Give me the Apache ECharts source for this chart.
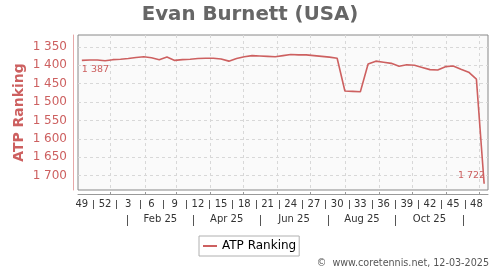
<!DOCTYPE html>
<html>
<head>
<meta charset="utf-8">
<script src="https://cdn.jsdelivr.net/npm/echarts@6/dist/echarts.min.js"></script>
<style>html,body{margin:0;padding:0;background:#fff}#c{width:500px;height:270px}</style>
</head>
<body>
<div id="c"></div>
<script>
// ISO week numbers (week 49 of 2024 .. week 49 of 2025)
const weeks = [49,50,51,52,1,2,3,4,5,6,7,8,9,10,11,12,13,14,15,16,17,18,19,20,21,22,23,24,25,26,27,28,29,30,31,32,33,34,35,36,37,38,39,40,41,42,43,44,45,46,47,48,49];
const ranking = [1387,1386,1386,1388,1385,1384,1382,1379,1377,1380,1385,1378,1387,1385,1384,1382,1381,1381,1383,1389,1382,1377,1374,1375,1376,1377,1374,1371,1372,1372,1374,1376,1378,1381,1470,1471,1472,1397,1389,1392,1395,1403,1399,1400,1406,1412,1413,1404,1402,1411,1419,1438,1722];
const yTicks = [1350,1400,1450,1500,1550,1600,1650,1700];
const firstDate = '2024-12-06';
const monthStarts = ['2025-01-01','2025-02-01','2025-03-01','2025-04-01','2025-05-01','2025-06-01','2025-07-01','2025-08-01','2025-09-01','2025-10-01','2025-11-01','2025-12-01'];
const monthLabels = ['Feb 25','Apr 25','Jun 25','Aug 25','Oct 25'];
const seriesName = 'ATP Ranking';
const titleText = 'Evan Burnett (USA)';
const creditText = '\u00a9  www.coretennis.net, 12-03-2025';

const FONT = 'DejaVu Sans';
const PINK = '#cd6060';
const dayOf = d => (Date.parse(d) - Date.parse(firstDate)) / 86400000;
const startDays = monthStarts.map(dayOf);
const lastDay = 7 * (weeks.length - 1);
// month label at the middle of Feb/Apr/Jun/Aug/Oct; separators at middle of Jan/Mar/May/Jul/Sep/Nov
const labelDays = [1,3,5,7,9].map(m => (startDays[m] + startDays[m+1]) / 2);
const sepDays = [0,2,4,6,8,10].map(m => (startDays[m] + startDays[m+1]) / 2);
const weekSeps = [];
for (let k = 1.5; k < weeks.length - 1; k += 3) weekSeps.push(k);
const fmt = v => { const s = String(v); return s.length > 3 ? s.slice(0, s.length - 3) + ' ' + s.slice(-3) : s; };

const chart = echarts.init(document.getElementById('c'), null, {renderer: 'canvas'});
const hidden = {axisLine:{show:false,onZero:false}, splitLine:{show:false}};
chart.setOption({
  animation: false,
  backgroundColor: '#fff',
  title: {
    text: titleText, left: 'center', top: 0,
    textStyle: {fontFamily: FONT, fontSize: 19.8, fontWeight: 'bold', color: '#666'}
  },
  legend: {
    data: [seriesName], left: 199, top: 236,
    padding: [4, 3, 4, 4], itemWidth: 14, itemHeight: 2, icon: 'rect',
    borderColor: '#b0b0b0', borderWidth: 1, borderRadius: 0,
    textStyle: {fontFamily: FONT, fontSize: 12, color: '#000'}
  },
  graphic: [{
    type: 'text', right: 11, bottom: 2,
    style: {text: creditText, font: '9.6px "DejaVu Sans"', fill: '#555'}
  }],
  grid: {
    left: 78, right: 12, top: 35, bottom: 80, show: true,
    backgroundColor: '#fafafa', borderColor: '#888', borderWidth: 1
  },
  xAxis: [
    { // week labels (data axis)
      type: 'category', data: weeks, boundaryGap: true, position: 'bottom', offset: 4,
      axisLine: {show: true, onZero: false, lineStyle: {color: '#999'}},
      axisTick: {show: false}, splitLine: {show: false},
      axisLabel: {interval: i => i % 3 === 0, margin: 5, fontFamily: FONT, fontSize: 10, color: '#333'}
    },
    { // month grid lines
      type: 'value', min: -3.5, max: lastDay + 3.5, position: 'bottom', offset: 4,
      axisLine: {show: false, onZero: false},
      axisTick: {show: true, inside: true, length: 2, customValues: startDays, lineStyle: {color: '#999'}},
      axisLabel: {show: false},
      splitLine: {show: true, lineStyle: {color: '#d8d8d8', type: [3, 3], width: 1}}
    },
    { // month labels
      type: 'value', min: -3.5, max: lastDay + 3.5, position: 'bottom', offset: 4,
      ...hidden,
      axisTick: {show: false},
      axisLabel: {show: true, customValues: labelDays, margin: 20, fontFamily: FONT, fontSize: 10, color: '#333',
        formatter: v => monthLabels[labelDays.indexOf(v)] || ''}
    },
    { // week separators
      type: 'value', min: -0.5, max: weeks.length - 0.5, position: 'bottom', offset: 10,
      ...hidden,
      axisTick: {show: true, length: 9, customValues: weekSeps, lineStyle: {color: '#555'}},
      axisLabel: {show: false}
    },
    { // month separators
      type: 'value', min: -3.5, max: lastDay + 3.5, position: 'bottom', offset: 25,
      ...hidden,
      axisTick: {show: true, length: 11, customValues: sepDays, lineStyle: {color: '#555'}},
      axisLabel: {show: false}
    }
  ],
  yAxis: {
    type: 'value', inverse: true, min: 1318, max: 1739, offset: 5,
    name: seriesName, nameLocation: 'middle', nameGap: 46.5, nameRotate: 90, nameMoveOverlap: false,
    nameTextStyle: {fontFamily: FONT, fontSize: 14, fontWeight: 'bold', color: PINK},
    axisLine: {show: true, onZero: false, lineStyle: {color: '#e6a8a8'}},
    axisTick: {show: false, customValues: yTicks},
    axisLabel: {customValues: yTicks, margin: 6, fontFamily: FONT, fontSize: 12, color: PINK, formatter: fmt},
    splitLine: {show: true, lineStyle: {color: '#d8d8d8', type: [3, 3], width: 1}}
  },
  series: [{
    name: seriesName, type: 'line', data: ranking, xAxisIndex: 0, yAxisIndex: 0,
    showSymbol: false, symbol: 'none',
    lineStyle: {color: PINK, width: 1.6}, itemStyle: {color: PINK},
    markPoint: {
      symbol: 'circle', symbolSize: 0,
      label: {fontFamily: FONT, fontSize: 9.5, color: PINK},
      data: [
        {coord: [0, ranking[0]], value: ranking[0],
         label: {position: 'inside', align: 'left', verticalAlign: 'middle', offset: [0, 9], formatter: p => fmt(p.value)}},
        {coord: [ranking.length - 1, ranking[ranking.length - 1]], value: ranking[ranking.length - 1],
         label: {position: 'inside', align: 'right', verticalAlign: 'middle', offset: [1, -8], formatter: p => fmt(p.value)}}
      ]
    }
  }]
});
</script>
</body>
</html>
